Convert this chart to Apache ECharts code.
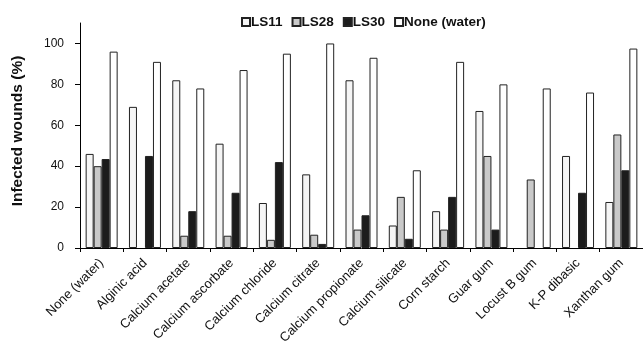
<!DOCTYPE html>
<html><head><meta charset="utf-8">
<script src="https://cdn.jsdelivr.net/npm/echarts@6/dist/echarts.min.js"></script>
<style>html,body{margin:0;padding:0;background:#fff}#c{width:643px;height:349px}</style>
</head><body><div id="c"></div>
<script>
const categories = ["None (water)","Alginic acid","Calcium acetate","Calcium ascorbate","Calcium chloride","Calcium citrate","Calcium propionate","Calcium silicate","Corn starch","Guar gum","Locust B gum","K-P dibasic","Xanthan gum"];
const ls11 = [46, 69, 82, 51, 22, 36, 82, 11, 18, 67, 0, 45, 22.5];
const ls28 = [40, 0, 6, 6, 4, 6.5, 9, 25, 9, 45, 33.5, 0, 55.5];
const ls30 = [43.5, 45, 18, 27, 42, 2, 16, 4.5, 25, 9, 0, 27, 38];
const none = [96, 91, 78, 87, 95, 100, 93, 38, 91, 80, 78, 76, 97.5];
const yTicks = [0, 20, 40, 60, 80, 100];

const chart = echarts.init(document.getElementById('c'), null, {renderer:'canvas'});
const FONT = 'Arial, "Liberation Sans", sans-serif';
const mk = (name, data, color) => ({
  name, type:'bar', data: data.map(v => v === 0 ? '-' : v), barWidth:8, barGap:'0%',
  itemStyle:{color, borderColor:'#222', borderWidth:1}
});
chart.setOption({
  animation:false,
  textStyle:{fontFamily:FONT},
  legend:{top:10, left:236, icon:'rect', itemWidth:8, itemHeight:8, itemGap:9,
    textStyle:{fontWeight:'bold', fontSize:13.5, color:'#111', fontFamily:FONT, padding:[0,0,0,-4]}},
  grid:{left:80, top:23, bottom:101, right:-9, containLabel:false},
  xAxis:{type:'category', data:categories,
    axisLine:{lineStyle:{color:'#000', width:1}},
    axisTick:{show:true, length:4, lineStyle:{color:'#000'}},
    axisLabel:{rotate:45, fontSize:13, color:'#111', margin:13, interval:0, fontFamily:FONT}},
  yAxis:{type:'value', min:0, max:110, interval:20,
    splitLine:{show:false},
    axisLine:{show:true, lineStyle:{color:'#000', width:1}},
    axisTick:{show:true, length:5, lineStyle:{color:'#000'}, customValues:yTicks},
    axisLabel:{fontSize:12, color:'#111', margin:16, customValues:yTicks, fontFamily:FONT}},
  graphic:[{type:'text', x:18, y:131, rotation:Math.PI/2,
    style:{text:'Infected wounds (%)', font:'bold 15.5px Arial, "Liberation Sans", sans-serif', fill:'#111', align:'center', verticalAlign:'middle'}}],
  series:[
    mk('LS11', ls11, '#f5f5f5'),
    mk('LS28', ls28, '#c9c9c9'),
    mk('LS30', ls30, '#1c1c1c'),
    mk('None (water)', none, '#ffffff')
  ]
});
</script></body></html>
